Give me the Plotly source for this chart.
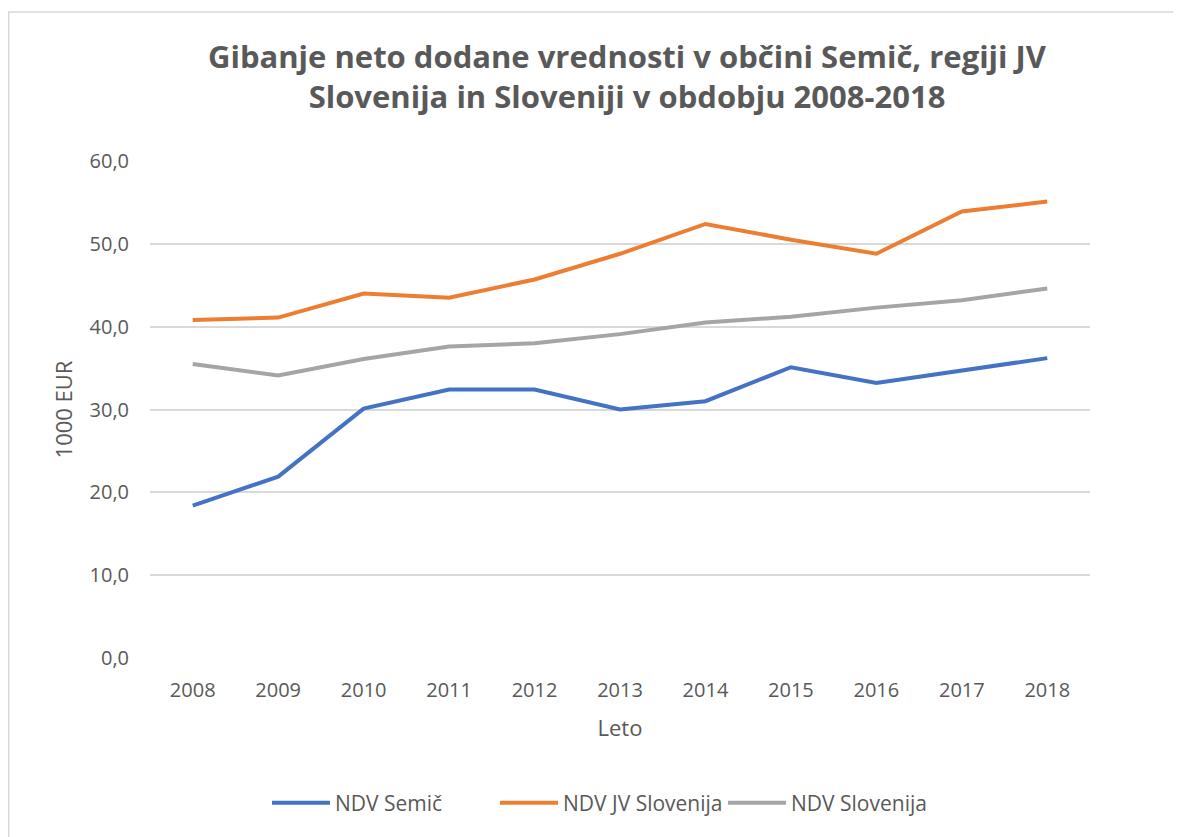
import plotly.graph_objects as go

years = [2008, 2009, 2010, 2011, 2012, 2013, 2014, 2015, 2016, 2017, 2018]
semic = [18.4, 21.9, 30.1, 32.4, 32.4, 30.0, 31.0, 35.1, 33.2, 34.7, 36.2]
jv_slovenija = [40.8, 41.1, 44.0, 43.5, 45.7, 48.8, 52.4, 50.5, 48.8, 53.9, 55.1]
slovenija = [35.5, 34.1, 36.1, 37.6, 38.0, 39.1, 40.5, 41.2, 42.3, 43.2, 44.6]
series_names = ["NDV Semič", "NDV JV Slovenija", "NDV Slovenija"]
colors = ["#4472C4", "#ED7D31", "#A5A5A5"]

fig = go.Figure()
for name, vals, c in zip(series_names, [semic, jv_slovenija, slovenija], colors):
    fig.add_trace(go.Scatter(x=years, y=vals, mode="lines", name=name,
                             line=dict(color=c, width=4)))

# page has an 8px body margin, so the figure is offset by 8px
W, H = 1173, 829
L, R, T, B = 142, 91, 153, 179
pw, ph = W - L - R, H - T - B
txt = "#595959"

fig.update_layout(
    width=W, height=H,
    margin=dict(l=L, r=R, t=T, b=B),
    paper_bgcolor="white", plot_bgcolor="white",
    separators=", ",
    font=dict(family="Open Sans", color=txt),
    title=dict(
        text="<b>Gibanje neto dodane vrednosti v občini Semič, regiji JV<br>Slovenija in Sloveniji v obdobju 2008-2018</b>",
        x=619 / W, xanchor="center", y=1 - 60 / H, yanchor="middle",
        font=dict(size=31, color=txt, family="Open Sans"),
    ),
    xaxis=dict(
        range=[2007.5, 2018.5], tickmode="array", tickvals=years,
        ticktext=[str(y) for y in years], showgrid=False, zeroline=False,
        showline=False, ticks="", tickfont=dict(size=20, color=txt),
        ticklabelstandoff=18,
        title=dict(text="Leto", font=dict(size=22, color=txt), standoff=18),
    ),
    yaxis=dict(
        range=[0, 60], dtick=10, tickformat=".1f", showgrid=True,
        gridcolor="#D9D9D9", gridwidth=1.5, zeroline=False, showline=False, ticks="",
        tickfont=dict(size=20, color=txt), ticklabelstandoff=20,
        title=dict(text="1000 EUR", font=dict(size=22, color=txt), standoff=10),
    ),
    legend=dict(orientation="h", x=(601 - L) / pw, xanchor="center",
                y=(650 - 795) / ph, yanchor="middle",
                font=dict(size=21, color=txt),
                itemwidth=58, entrywidth=155, entrywidthmode="pixels",
                tracegroupgap=0),
    showlegend=True,
)

fig.add_shape(type="rect", xref="paper", yref="paper",
              x0=(0.75 - L) / pw, x1=(W + 5 - L) / pw,
              y0=(650 - (H + 5)) / ph, y1=(650 - 4) / ph,
              line=dict(color="#D9D9D9", width=1.5), layer="below")

fig.write_html("out.html")
